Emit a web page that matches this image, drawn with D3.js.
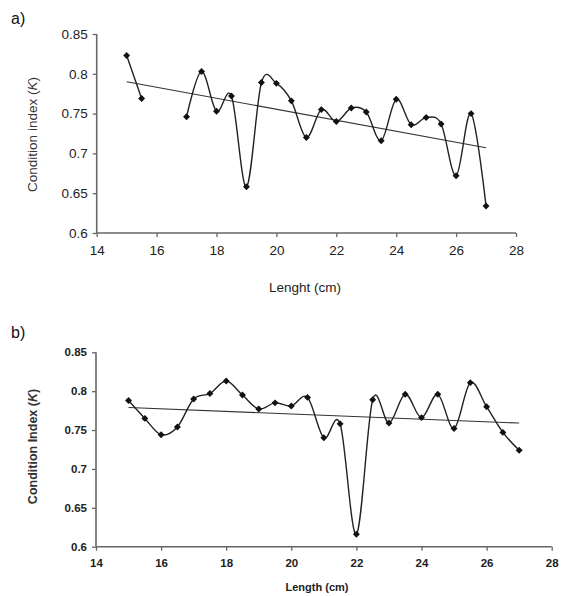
<!DOCTYPE html>
<html>
<head>
<meta charset="utf-8">
<script src="https://cdn.jsdelivr.net/npm/d3@7"></script>
<style>
  body { margin: 0; background: #fff; }
  svg { display: block; font-family: Arial, 'Liberation Sans', sans-serif; }
</style>
</head>
<body>
<svg id="chart" width="564" height="596"></svg>
<script>
// length classes (cm), shared by both panels
const lengths = [15, 15.5, 16, 16.5, 17, 17.5, 18, 18.5, 19, 19.5, 20, 20.5, 21, 21.5,
  22, 22.5, 23, 23.5, 24, 24.5, 25, 25.5, 26, 26.5, 27]

// panel a: no fish at 16 and 16.5 cm
const conditionA = [0.823, 0.769, null, null, 0.746, 0.803, 0.753, 0.772, 0.658, 0.789,
  0.788, 0.766, 0.720, 0.755, 0.740, 0.757, 0.752, 0.716, 0.768, 0.736, 0.745, 0.737,
  0.672, 0.750, 0.634]
const trendA = [[15, 0.790], [27, 0.707]]

// panel b
const conditionB = [0.788, 0.765, 0.744, 0.754, 0.790, 0.797, 0.813, 0.795, 0.777, 0.785,
  0.781, 0.792, 0.740, 0.758, 0.616, 0.789, 0.759, 0.796, 0.766, 0.796, 0.752, 0.811,
  0.780, 0.747, 0.724]
const trendB = [[15, 0.779], [27, 0.759]]

const xTicks = [14, 16, 18, 20, 22, 24, 26, 28]
const yTicks = [0.6, 0.65, 0.7, 0.75, 0.8, 0.85]

const svg = d3.select('#chart')

/** Draw one panel: axes, trend line, smoothed data line and diamonds */
function drawPanel (p) {
  const x = d3.scaleLinear().domain([14, 28]).range([p.left, p.right])
  const y = d3.scaleLinear().domain([0.6, 0.85]).range([p.bottom, p.top])
  const g = svg.append('g')

  const yAxis = g.append('g')
    .attr('transform', `translate(${p.left},0)`)
    .call(d3.axisLeft(y).tickValues(yTicks).tickSize(4).tickPadding(5)
      .tickFormat(d => String(+d.toFixed(2))))
  const xAxis = g.append('g')
    .attr('transform', `translate(0,${p.bottom})`)
    .call(d3.axisBottom(x).tickValues(xTicks).tickSize(4).tickPadding(8))
  for (const ax of [xAxis, yAxis]) {
    ax.attr('font-family', null)
    ax.select('.domain').attr('stroke', '#666').attr('stroke-width', 1.6)
      .attr('d', ax === xAxis ? `M${p.left},0H${p.right}` : `M0,${p.top}V${p.bottom}`)
    ax.selectAll('.tick line').attr('stroke', '#666').attr('stroke-width', 1.3)
    ax.selectAll('.tick text').attr('fill', '#222')
      .style('font-size', p.tickFont + 'px').style('font-weight', p.weight)
  }

  const pts = lengths.map((l, i) => [l, p.values[i]])
  const line = d3.line()
    .defined(d => d[1] !== null)
    .x(d => x(d[0])).y(d => y(d[1]))
    .curve(d3.curveCardinal.tension(0))

  g.append('path').datum(p.trend)
    .attr('fill', 'none').attr('stroke', '#333').attr('stroke-width', 1.1)
    .attr('d', d3.line().x(d => x(d[0])).y(d => y(d[1])))

  g.append('path').datum(pts)
    .attr('fill', 'none').attr('stroke', '#222').attr('stroke-width', 1.4)
    .attr('d', line)

  g.selectAll('path.mark')
    .data(pts.filter(d => d[1] !== null))
    .enter().append('path').attr('class', 'mark')
    .attr('d', d3.symbol(d3.symbolSquare, 24))
    .attr('transform', d => `translate(${x(d[0])},${y(d[1])}) rotate(45)`)
    .attr('fill', '#111')

  g.append('text').text(p.tag)
    .attr('x', 11).attr('y', p.tagY)
    .style('font-size', '16px').attr('fill', '#111')

  g.append('text').text(p.xTitle)
    .attr('x', p.xTitleX).attr('y', p.xTitleY).attr('text-anchor', 'middle')
    .style('font-size', p.titleFont + 'px').style('font-weight', p.weight).attr('fill', '#222')

  const yt = g.append('text')
    .attr('transform', `translate(37,${(p.top + p.bottom) / 2 + p.yTitleShift}) rotate(-90)`)
    .attr('text-anchor', 'middle')
    .style('font-size', p.yTitleFont + 'px').style('font-weight', p.weight).attr('fill', '#333')
  yt.append('tspan').text(p.yTitle + ' (')
  yt.append('tspan').text('K').style('font-style', 'italic')
  yt.append('tspan').text(')')
}

drawPanel({
  tag: 'a)', tagY: 24, values: conditionA, trend: trendA,
  left: 96.7, right: 516, top: 34, bottom: 233,
  tickFont: 13.5, titleFont: 13.5, yTitleFont: 13.5, weight: 'normal',
  xTitle: 'Lenght (cm)', xTitleX: 305, xTitleY: 292,
  yTitle: 'Condition index', yTitleShift: 1
})

drawPanel({
  tag: 'b)', tagY: 338, values: conditionB, trend: trendB,
  left: 96, right: 551.7, top: 352.3, bottom: 546.7,
  tickFont: 11.5, titleFont: 11, yTitleFont: 12.5, weight: 'bold',
  xTitle: 'Length (cm)', xTitleX: 317, xTitleY: 591,
  yTitle: 'Condition Index', yTitleShift: -3
})
</script>
</body>
</html>
